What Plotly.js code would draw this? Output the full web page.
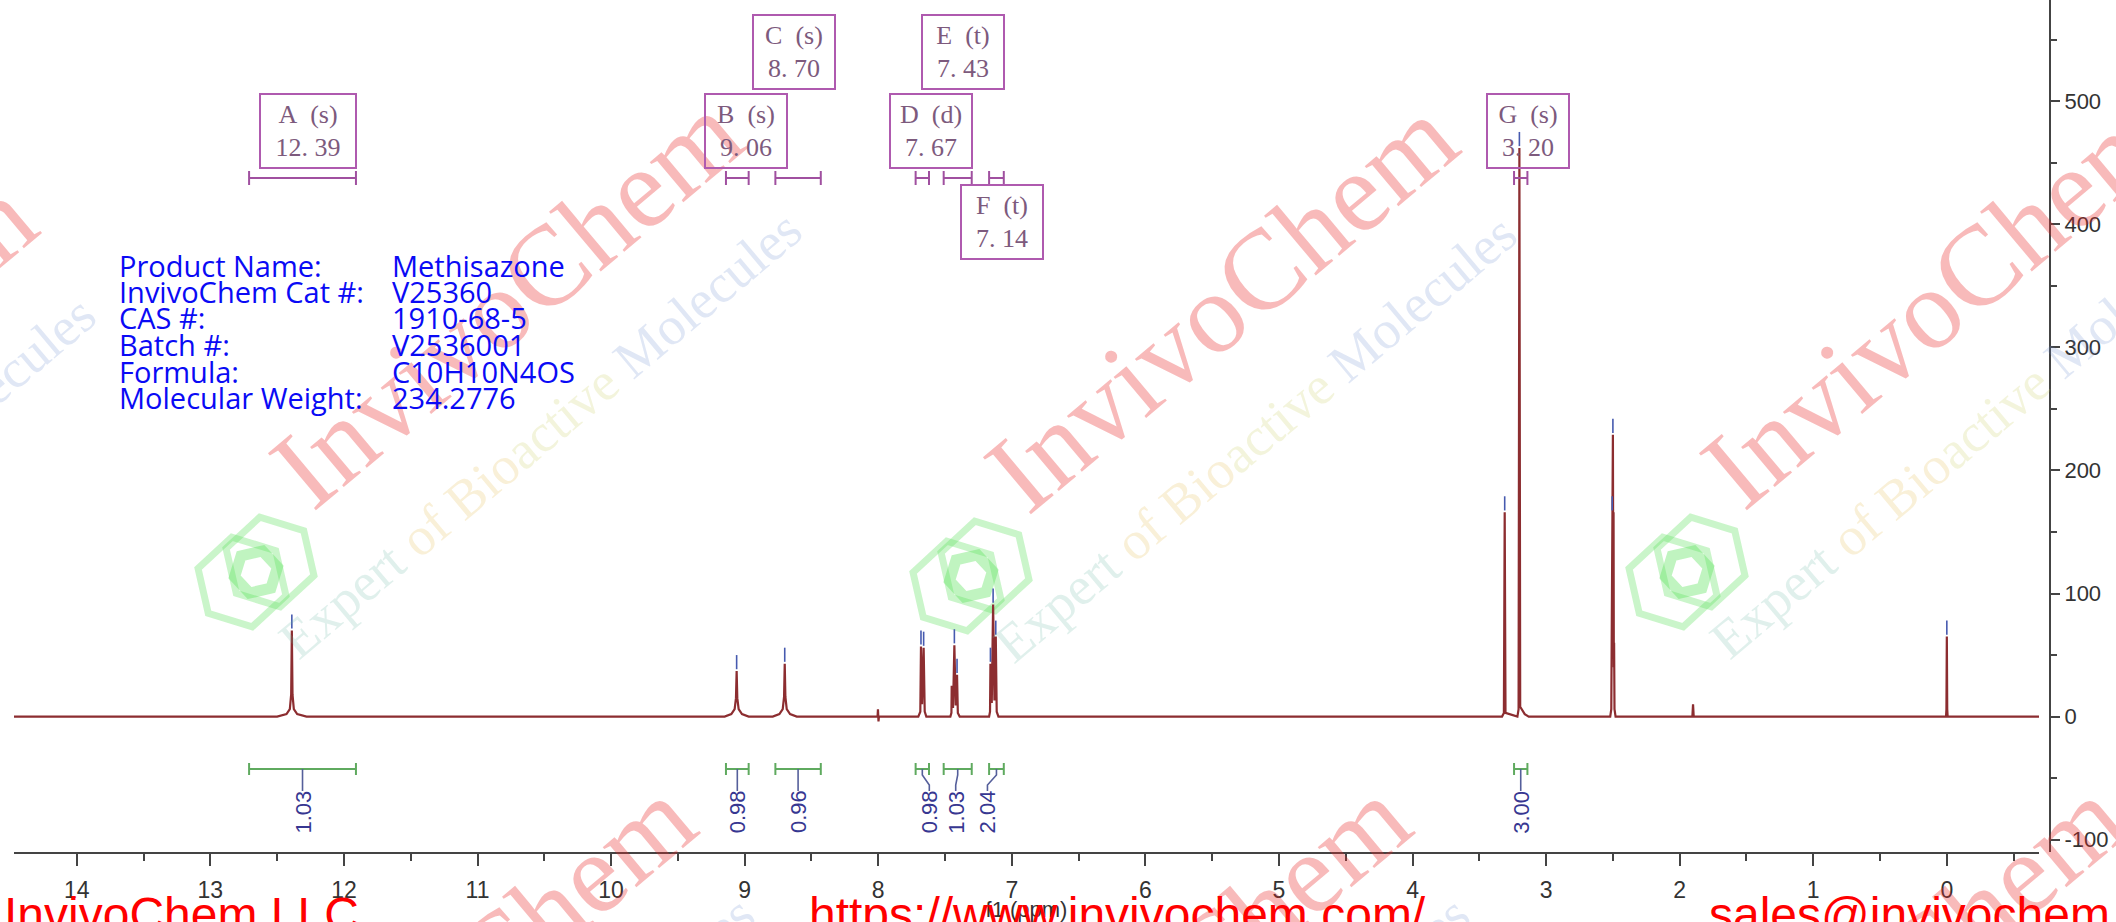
<!DOCTYPE html>
<html><head><meta charset="utf-8">
<script src="https://cdn.plot.ly/plotly-3.0.1.min.js"></script>
<style>html,body{margin:0;padding:0;background:#fff;}#chart{width:2116px;height:922px;}</style>
</head><body><div id="chart"></div>
<script>
// ---------------- data ----------------
const specPpm = [14.47, 12.50, 12.43, 12.405, 12.395, 12.39, 12.385, 12.375, 12.35, 12.28,
  9.15, 9.10, 9.075, 9.065, 9.06, 9.055, 9.045, 9.02, 8.97,
  8.79, 8.74, 8.715, 8.705, 8.70, 8.695, 8.685, 8.66, 8.61,
  8.005, 8.002, 7.998, 7.995,
  7.70, 7.685, 7.68, 7.672, 7.66, 7.652, 7.64,
  7.46, 7.452, 7.45, 7.44, 7.43, 7.42, 7.41, 7.404, 7.39,
  7.17, 7.163, 7.16, 7.15, 7.14, 7.13, 7.12, 7.113, 7.10,
  3.33, 3.316, 3.31, 3.304, 3.215, 3.206, 3.20, 3.194, 3.18, 3.16, 3.13,
  2.52, 2.512, 2.509, 2.507, 2.505, 2.5025, 2.500, 2.4975, 2.495, 2.493, 2.491, 2.488, 2.48,
  1.905, 1.90, 1.895,
  0.006, 0.003, 0.00, -0.003, -0.006, -0.69];
const specInt = [0, 0, 2, 6, 18, 70, 18, 6, 2, 0,
  0, 2, 6, 15, 37, 15, 6, 2, 0,
  0, 2, 6, 16, 43, 16, 6, 2, 0,
  0, 6, -4, 0,
  0, 4, 57, 10, 56, 4, 0,
  0, 3, 25, 7, 58, 9, 34, 3, 0,
  0, 4, 43, 11, 91, 13, 65, 4, 0,
  0, 3, 166, 3, 0, 6, 462, 8, 5, 2, 0,
  0, 6, 60, 40, 166, 120, 229, 120, 166, 40, 60, 6, 0,
  0, 10, 0,
  0, 6, 65, 6, 0, 0];

// picked peaks (blue markers)
const markPpm = [12.39, 9.06, 8.70, 7.68, 7.66, 7.43, 7.41, 7.16, 7.14, 7.12, 3.31, 3.20, 2.505, 2.500, 0.00];
const markTop = [70, 37, 43, 57, 56, 58, 34, 43, 91, 65, 166, 462, 166, 229, 65];

// multiplets
const multLetter = ['A', 'B', 'C', 'D', 'E', 'F', 'G'];
const multType   = ['s', 's', 's', 'd', 't', 't', 's'];
const multShift  = [12.39, 9.06, 8.70, 7.67, 7.43, 7.14, 3.20];

// integrals
const intFrom  = [12.71, 9.14, 8.77, 7.72, 7.51, 7.17, 3.24];
const intTo    = [11.91, 8.97, 8.43, 7.62, 7.30, 7.06, 3.14];
const intValue = ['1.03', '0.98', '0.96', '0.98', '1.03', '2.04', '3.00'];

// axes
const xTickVals  = [14, 13, 12, 11, 10, 9, 8, 7, 6, 5, 4, 3, 2, 1, 0];
const xTickText  = ['14', '13', '12', '11', '10', '9', '8', '7', '6', '5', '4', '3', '2', '1', '0'];
const xMinorVals = [13.5, 12.5, 11.5, 10.5, 9.5, 8.5, 7.5, 6.5, 5.5, 4.5, 3.5, 2.5, 1.5, 0.5, -0.5];
const yTickVals  = [-100, 0, 100, 200, 300, 400, 500];
const yTickText  = ['-100', '0', '100', '200', '300', '400', '500'];
const yMinorVals = [-50, 50, 150, 250, 350, 450, 550];

// text blocks
const infoLabels = ['Product Name:', 'InvivoChem Cat #:', 'CAS #:', 'Batch #:', 'Formula:', 'Molecular Weight:'];
const infoValues = ['Methisazone', 'V25360', '1910-68-5', 'V2536001', 'C10H10N4OS', '234.2776'];
const footerTexts = ['InvivoChem LLC', 'https://www.invivochem.com/', 'sales@invivochem.com'];

// ---------------- layout helpers ----------------
const W = 2116, H = 922;
const ML = 14, MR = 64, MT = 0, MB = 70;
const PW = W - ML - MR, PH = H - MT - MB;
const px2x = px => (px - ML) / PW;
const px2y = py => 1 - (py - MT) / PH;
const PX_PER_PPM = 133.6;

// ---------------- traces ----------------
const spectrum = {
  x: specPpm, y: specInt, type: 'scatter', mode: 'lines',
  line: {color: 'rgb(140,45,48)', width: 2.2}, hoverinfo: 'skip'
};
const mx = [], my = [];
markPpm.forEach((p, i) => { mx.push(p, p, null); my.push(markTop[i] + 1.5, markTop[i] + 13, null); });
const markers = {
  x: mx, y: my, type: 'scatter', mode: 'lines',
  line: {color: 'rgb(70,90,175)', width: 1.6}, hoverinfo: 'skip'
};

// ---------------- shapes & annotations ----------------
const shapes = [];
const annotations = [];

// watermarks (tiled)
const wmCenters = [[-200, 385], [506, 300], [1221, 304], [1937, 300], [459, 985], [1174, 985], [1889, 985]];
const expertText = '<span style="color:rgba(100,180,160,0.5)">Expert</span> ' +
  '<span style="color:rgba(225,180,60,0.5)">of Bio</span><span style="color:rgba(195,200,80,0.5)">active</span> ' +
  '<span style="color:rgba(100,135,205,0.5)">Molecules</span>';
function hexPath(cx, cy, r, rot) {
  let d = '';
  for (let k = 0; k < 6; k++) {
    const a = rot + k * Math.PI / 3;
    const X = px2x(cx + r * Math.cos(a)), Y = px2y(cy + r * Math.sin(a));
    d += (k === 0 ? 'M' : 'L') + X + ',' + Y + ' ';
  }
  return d + 'Z';
}
wmCenters.forEach(([cx, cy]) => {
  annotations.push({xref: 'paper', yref: 'paper', x: px2x(cx), y: px2y(cy), xanchor: 'center', yanchor: 'middle',
    text: 'InvivoChem', showarrow: false, textangle: -40,
    font: {family: 'Liberation Serif', size: 114, color: 'rgba(232,40,40,0.32)'}});
  annotations.push({xref: 'paper', yref: 'paper', x: px2x(cx + 34), y: px2y(cy + 135), xanchor: 'center', yanchor: 'middle',
    text: expertText, showarrow: false, textangle: -40,
    font: {family: 'Liberation Serif', size: 54, color: 'rgba(150,150,150,0.4)'}});
  const lx = cx - 250, ly = cy + 272;
  shapes.push({type: 'path', xref: 'paper', yref: 'paper', layer: 'below', path: hexPath(lx - 14, ly + 10, 46, 0.3),
    line: {color: 'rgba(90,225,90,0.32)', width: 7}});
  shapes.push({type: 'path', xref: 'paper', yref: 'paper', layer: 'below', path: hexPath(lx + 14, ly - 10, 46, 0.3),
    line: {color: 'rgba(90,225,90,0.32)', width: 7}});
  shapes.push({type: 'path', xref: 'paper', yref: 'paper', layer: 'below', path: hexPath(lx, ly, 22, 0.3 + Math.PI / 6),
    line: {color: 'rgba(90,225,90,0.38)', width: 11}});
});

// multiplet boxes
const rowY = {top: 52, mid: 131, bot: 221.5};
const boxRow = ['mid', 'mid', 'top', 'mid', 'top', 'bot', 'mid'];
multLetter.forEach((L, i) => {
  const s = multShift[i].toFixed(2).replace('.', '.\u00a0');
  annotations.push({xref: 'x', yref: 'paper', x: multShift[i], y: px2y(rowY[boxRow[i]]), xshift: i === 0 ? 16 : 9,
    xanchor: 'center', yanchor: 'middle', showarrow: false,
    text: L + '\u00a0\u00a0(' + multType[i] + ')<br>' + s,
    width: i === 0 ? 94 : 80, height: 72, borderpad: 0, borderwidth: 2, bordercolor: 'rgb(175,90,175)',
    font: {family: 'Liberation Serif', size: 26, color: 'rgb(125,90,125)'}, align: 'center'});
});

// purple integration brackets (top) and green brackets (bottom)
const topY = px2y(178), topT = 7 / PH;
const botY = px2y(769), botT = 6 / PH;
const labelShiftPx = [0, 0, 0, 7, -2, -9, 0];
intFrom.forEach((a, i) => {
  const b = intTo[i];
  const pc = 'rgb(160,80,160)', gc = 'rgb(95,170,95)', sc = 'rgb(85,95,155)';
  shapes.push({type: 'line', xref: 'x', yref: 'paper', x0: a, x1: b, y0: topY, y1: topY, line: {color: pc, width: 2}});
  shapes.push({type: 'line', xref: 'x', yref: 'paper', x0: a, x1: a, y0: topY - topT, y1: topY + topT, line: {color: pc, width: 2}});
  shapes.push({type: 'line', xref: 'x', yref: 'paper', x0: b, x1: b, y0: topY - topT, y1: topY + topT, line: {color: pc, width: 2}});
  shapes.push({type: 'line', xref: 'x', yref: 'paper', x0: a, x1: b, y0: botY, y1: botY, line: {color: gc, width: 2}});
  shapes.push({type: 'line', xref: 'x', yref: 'paper', x0: a, x1: a, y0: botY - botT, y1: botY + botT, line: {color: gc, width: 2}});
  shapes.push({type: 'line', xref: 'x', yref: 'paper', x0: b, x1: b, y0: botY - botT, y1: botY + botT, line: {color: gc, width: 2}});
  const c = (a + b) / 2;
  const l = c - labelShiftPx[i] / PX_PER_PPM;
  shapes.push({type: 'path', xref: 'x', yref: 'paper',
    path: 'M' + c + ',' + botY + ' L' + c + ',' + px2y(775) + ' L' + l + ',' + px2y(785) + ' L' + l + ',' + px2y(791),
    line: {color: sc, width: 1.6}});
  annotations.push({xref: 'x', yref: 'paper', x: l, y: px2y(812), xanchor: 'center', yanchor: 'middle',
    text: intValue[i], showarrow: false, textangle: -90,
    font: {family: 'Liberation Sans', size: 22, color: 'rgb(55,55,145)'}});
});

// product info
infoLabels.forEach((t, i) => {
  const yy = px2y(265 + 26.5 * i);
  annotations.push({xref: 'paper', yref: 'paper', x: px2x(117), y: yy, xanchor: 'left', yanchor: 'middle',
    text: t, showarrow: false, font: {family: 'Open Sans', size: 29, color: 'rgb(10,10,245)'}});
  annotations.push({xref: 'paper', yref: 'paper', x: px2x(390), y: yy, xanchor: 'left', yanchor: 'middle',
    text: infoValues[i], showarrow: false, font: {family: 'Open Sans', size: 29, color: 'rgb(10,10,245)'}});
});

// footer
const footerX = [2, 807, 1707];
footerTexts.forEach((t, i) => {
  annotations.push({xref: 'paper', yref: 'paper', x: px2x(footerX[i]), y: px2y(914), xanchor: 'left', yanchor: 'middle',
    text: t, showarrow: false, font: {family: 'Liberation Sans', size: 48, color: 'rgb(255,0,0)'}});
});

const axisFont = {family: 'Liberation Sans', size: 22, color: '#333'};
const layout = {
  width: W, height: H, margin: {l: ML, r: MR, t: MT, b: MB}, showlegend: false,
  paper_bgcolor: '#fff', plot_bgcolor: '#fff',
  xaxis: {range: [14.47, -0.69], domain: [0, (2039 - ML) / PW], showline: true, linecolor: '#444', linewidth: 2,
    showgrid: false, zeroline: false, ticks: 'outside', ticklen: 12, tickwidth: 2, tickcolor: '#444',
    tickmode: 'array', tickvals: xTickVals, ticktext: xTickText, ticklabelstandoff: 4,
    minor: {tickmode: 'array', tickvals: xMinorVals, ticks: 'outside', ticklen: 7, tickwidth: 2, tickcolor: '#444'},
    tickfont: {family: 'Liberation Sans Narrow, Liberation Sans', size: 23, color: '#333'},
    title: {text: 'f1 (ppm)', font: {family: 'Liberation Sans Narrow, Liberation Sans', size: 22, color: '#333'}, standoff: 0}},
  yaxis: {range: [-110, 582.2], anchor: 'free', position: (2050 - ML) / PW, side: 'right', showline: true,
    linecolor: '#444', linewidth: 2, showgrid: false, zeroline: false, ticks: 'outside', ticklen: 9, tickwidth: 2,
    tickcolor: '#444', tickmode: 'array', tickvals: yTickVals, ticktext: yTickText,
    minor: {tickmode: 'array', tickvals: yMinorVals, ticks: 'outside', ticklen: 6, tickwidth: 2, tickcolor: '#444'},
    tickfont: axisFont},
  shapes: shapes, annotations: annotations
};
Plotly.newPlot('chart', [spectrum, markers], layout, {staticPlot: true, displayModeBar: false});
</script></body></html>
